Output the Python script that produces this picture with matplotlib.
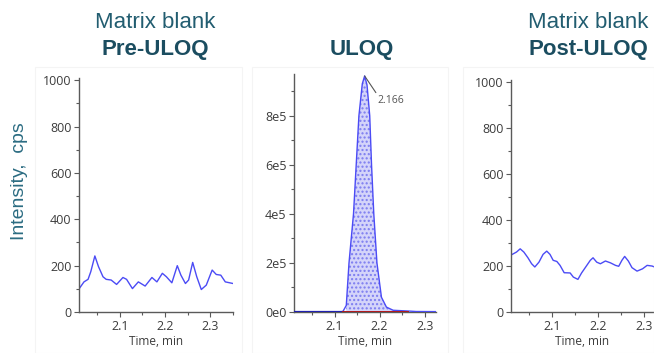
import matplotlib
matplotlib.use("Agg")
import matplotlib.pyplot as plt
from matplotlib.ticker import MultipleLocator, FuncFormatter
from matplotlib.patches import Rectangle

# chromatogram traces
pre_time = [2.008, 2.021, 2.030, 2.036, 2.045, 2.053, 2.063, 2.070, 2.081, 2.093,
            2.107, 2.115, 2.128, 2.141, 2.156, 2.171, 2.182, 2.194, 2.203, 2.215,
            2.227, 2.235, 2.245, 2.252, 2.261, 2.270, 2.280, 2.291, 2.304, 2.313,
            2.323, 2.333, 2.350]
pre_int = [94, 130, 141, 174, 242, 196, 152, 141, 138, 119,
           149, 141, 101, 130, 112, 149, 130, 167, 152, 126,
           200, 159, 123, 138, 214, 152, 97, 116, 181, 162,
           159, 130, 123]

uloq_time = [2.007, 2.111, 2.1185, 2.126, 2.132, 2.142, 2.148, 2.154, 2.1615, 2.1667,
             2.172, 2.178, 2.182, 2.187, 2.194, 2.204, 2.215, 2.230, 2.263, 2.281,
             2.330]
uloq_int = [0, 0, 2000, 27000, 2.0e5, 4.0e5, 6.0e5, 8.0e5, 9.3e5, 9.62e5,
            9.25e5, 8.0e5, 6.0e5, 4.0e5, 2.0e5, 6.0e4, 2.0e4, 7000, 4000, 2000,
            1500]

post_time = [2.011, 2.022, 2.030, 2.038, 2.047, 2.055, 2.062, 2.071, 2.080, 2.088,
             2.095, 2.102, 2.110, 2.117, 2.126, 2.139, 2.146, 2.156, 2.164, 2.173,
             2.183, 2.189, 2.197, 2.205, 2.216, 2.227, 2.238, 2.245, 2.252, 2.258,
             2.266, 2.274, 2.285, 2.297, 2.307, 2.318, 2.323]
post_int = [249, 261, 275, 261, 236, 210, 196, 217, 251, 265,
            251, 225, 220, 203, 171, 170, 152, 142, 170, 196,
            225, 236, 217, 210, 222, 214, 203, 199, 225, 242,
            222, 193, 178, 188, 203, 200, 196]

apex_time = 2.1667
apex_int = 9.62e5
apex_label = "2.166"
peak_start, peak_end = 2.119, 2.263

titles_top = ["Matrix blank", "", "Matrix blank"]
titles_bold = ["Pre-ULOQ", "ULOQ", "Post-ULOQ"]

W, H = 654, 353
LINE = "#4b4bf5"
AXC = "#5a5a5a"
TXT = "#3c3c3c"
TEAL = "#225d70"
TEAL_DARK = "#1b4d60"


def px(x, y):
    return x / W, 1 - y / H


def style_axis(ax, xlim, ylim, ymajor, yminor):
    ax.set_xlim(*xlim)
    ax.set_ylim(*ylim)
    for s in ["top", "right"]:
        ax.spines[s].set_visible(False)
    for s in ["left", "bottom"]:
        ax.spines[s].set_color(AXC)
        ax.spines[s].set_linewidth(1.0)
    ax.xaxis.set_major_locator(MultipleLocator(0.1))
    ax.xaxis.set_minor_locator(MultipleLocator(0.05))
    ax.yaxis.set_major_locator(MultipleLocator(ymajor))
    ax.yaxis.set_minor_locator(MultipleLocator(yminor))
    ax.tick_params(which="both", direction="out", color=AXC, width=0.8,
                   labelcolor=TXT, labelsize=9, pad=2)
    ax.tick_params(which="major", length=3.5)
    ax.tick_params(which="minor", length=2)
    ax.xaxis.set_major_formatter(FuncFormatter(lambda v, p: f"{v:.1f}"))
    ax.set_xlabel("Time, min", fontsize=8.5, color=TXT, labelpad=2)
    ax.patch.set_alpha(0)


def main():
    plt.rcParams["font.family"] = ["Open Sans", "DejaVu Sans"]
    fig = plt.figure(figsize=(W / 100, H / 100), dpi=100)

    # faint panel frames
    for x0, x1 in [(35, 242), (252, 448), (463, 654)]:
        fig.patches.append(Rectangle(px(x0, 353), (x1 - x0) / W, (353 - 67) / H,
                                     transform=fig.transFigure, fill=False,
                                     edgecolor="#f4f4f4", lw=0.8, zorder=0))

    ax1 = fig.add_axes([79 / W, 41 / H, 154 / W, 234 / H])
    ax2 = fig.add_axes([294 / W, 41 / H, 142 / W, 238 / H])
    ax3 = fig.add_axes([511 / W, 41 / H, 143 / W, 232 / H])

    ax1.plot(pre_time, pre_int, color=LINE, lw=1.0)
    style_axis(ax1, (2.01, 2.35), (0, 1010), 200, 100)

    ax3.plot(post_time, post_int, color=LINE, lw=1.0)
    style_axis(ax3, (2.01, 2.322), (0, 1010), 200, 100)

    # ULOQ peak with integrated area
    inside = [i for i, t in enumerate(uloq_time) if peak_start <= t <= peak_end]
    ft = [uloq_time[i] for i in inside]
    fy = [uloq_int[i] for i in inside]
    ax2.fill_between(ft, 0, fy, facecolor="#d4d4fa", edgecolor="none", zorder=1)
    ax2.fill_between(ft, 0, fy, facecolor="none", edgecolor="#7c7cf0", hatch="....",
                     linewidth=0, zorder=1)
    ax2.plot(uloq_time, uloq_int, color=LINE, lw=1.0, zorder=3)
    ax2.plot([uloq_time[0], peak_start], [0, 0], color="#2020b0", lw=1.6, zorder=3)
    ax2.plot([peak_start, peak_end], [0, 0], color="#b01818", lw=1.4, zorder=4)
    style_axis(ax2, (2.01, 2.325), (0, 9.7e5), 2e5, 1e5)
    ax2.yaxis.set_major_formatter(FuncFormatter(lambda v, p: f"{int(round(v / 1e5))}e5" if v > 0 else "0e0"))
    ax2.annotate(apex_label, xy=(apex_time, apex_int), xytext=(9, -14),
                 textcoords="offset points", ha="left", va="top", fontsize=7.5,
                 color="#555555",
                 arrowprops=dict(arrowstyle="-", color="#555555", lw=0.8,
                                 shrinkA=0, shrinkB=0, relpos=(0.05, 0.9)))

    # titles
    centers = [155, 362, 588]
    for cx, top, bold in zip(centers, titles_top, titles_bold):
        if top:
            fig.text(*px(cx, 23), top, ha="center", va="center", fontsize=16,
                     color=TEAL, family="Liberation Sans")
        fig.text(*px(cx, 49), bold, ha="center", va="center", fontsize=16,
                 color=TEAL_DARK, family="Liberation Sans", fontweight="bold")

    fig.text(*px(20, 181), "Intensity,  cps", rotation=90, ha="center", va="center",
             fontsize=14, color="#2b6c82", family="Liberation Sans")

    fig.savefig("out.png", dpi=100)


if __name__ == "__main__":
    main()
